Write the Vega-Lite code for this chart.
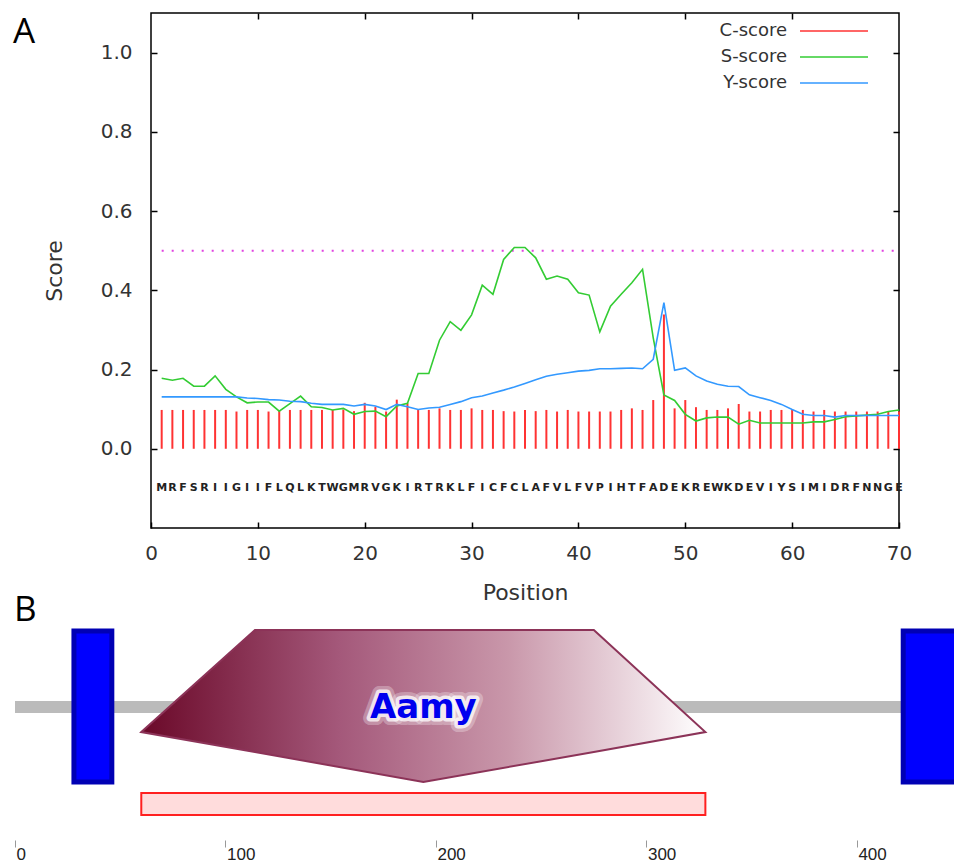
{
  "$schema": "https://vega.github.io/schema/vega-lite/v6.json",
  "padding": {"left": 12, "top": 11, "right": 0, "bottom": 0},
  "spacing": -11,
  "background": "white",
  "config": {
    "view": {"stroke": null},
    "title": {"font": "Open Sans", "fontSize": 35, "fontWeight": "normal", "color": "#000", "anchor": "start", "frame": "group", "baseline": "alphabetic"},
    "axis": {"grid": false, "labelFont": "DejaVu Sans", "titleFont": "DejaVu Sans", "titleFontWeight": "normal", "labelColor": "#333", "titleColor": "#333"}
  },
  "datasets": {
    "seq": [
      {"pos":1,"aa":"M","C-score":0.098,"S-score":0.178,"Y-score":0.131},
      {"pos":2,"aa":"R","C-score":0.098,"S-score":0.173,"Y-score":0.131},
      {"pos":3,"aa":"F","C-score":0.098,"S-score":0.178,"Y-score":0.131},
      {"pos":4,"aa":"S","C-score":0.098,"S-score":0.158,"Y-score":0.131},
      {"pos":5,"aa":"R","C-score":0.098,"S-score":0.158,"Y-score":0.131},
      {"pos":6,"aa":"I","C-score":0.098,"S-score":0.184,"Y-score":0.131},
      {"pos":7,"aa":"I","C-score":0.098,"S-score":0.150,"Y-score":0.131},
      {"pos":8,"aa":"G","C-score":0.094,"S-score":0.131,"Y-score":0.131},
      {"pos":9,"aa":"I","C-score":0.098,"S-score":0.116,"Y-score":0.128},
      {"pos":10,"aa":"I","C-score":0.098,"S-score":0.118,"Y-score":0.127},
      {"pos":11,"aa":"F","C-score":0.094,"S-score":0.118,"Y-score":0.124},
      {"pos":12,"aa":"L","C-score":0.096,"S-score":0.095,"Y-score":0.123},
      {"pos":13,"aa":"Q","C-score":0.098,"S-score":0.114,"Y-score":0.120},
      {"pos":14,"aa":"L","C-score":0.098,"S-score":0.133,"Y-score":0.119},
      {"pos":15,"aa":"K","C-score":0.098,"S-score":0.106,"Y-score":0.115},
      {"pos":16,"aa":"T","C-score":0.098,"S-score":0.104,"Y-score":0.112},
      {"pos":17,"aa":"W","C-score":0.098,"S-score":0.098,"Y-score":0.112},
      {"pos":18,"aa":"G","C-score":0.099,"S-score":0.102,"Y-score":0.112},
      {"pos":19,"aa":"M","C-score":0.095,"S-score":0.087,"Y-score":0.108},
      {"pos":20,"aa":"R","C-score":0.116,"S-score":0.094,"Y-score":0.112},
      {"pos":21,"aa":"V","C-score":0.106,"S-score":0.095,"Y-score":0.108},
      {"pos":22,"aa":"G","C-score":0.094,"S-score":0.081,"Y-score":0.099},
      {"pos":23,"aa":"K","C-score":0.124,"S-score":0.108,"Y-score":0.112},
      {"pos":24,"aa":"I","C-score":0.115,"S-score":0.115,"Y-score":0.106},
      {"pos":25,"aa":"R","C-score":0.098,"S-score":0.190,"Y-score":0.099},
      {"pos":26,"aa":"T","C-score":0.098,"S-score":0.190,"Y-score":0.103},
      {"pos":27,"aa":"R","C-score":0.102,"S-score":0.274,"Y-score":0.105},
      {"pos":28,"aa":"K","C-score":0.098,"S-score":0.321,"Y-score":0.112},
      {"pos":29,"aa":"L","C-score":0.098,"S-score":0.299,"Y-score":0.119},
      {"pos":30,"aa":"F","C-score":0.102,"S-score":0.338,"Y-score":0.129},
      {"pos":31,"aa":"I","C-score":0.098,"S-score":0.413,"Y-score":0.133},
      {"pos":32,"aa":"C","C-score":0.098,"S-score":0.390,"Y-score":0.141},
      {"pos":33,"aa":"F","C-score":0.095,"S-score":0.478,"Y-score":0.148},
      {"pos":34,"aa":"C","C-score":0.094,"S-score":0.508,"Y-score":0.156},
      {"pos":35,"aa":"L","C-score":0.098,"S-score":0.508,"Y-score":0.165},
      {"pos":36,"aa":"A","C-score":0.095,"S-score":0.482,"Y-score":0.174},
      {"pos":37,"aa":"F","C-score":0.098,"S-score":0.428,"Y-score":0.183},
      {"pos":38,"aa":"V","C-score":0.094,"S-score":0.436,"Y-score":0.188},
      {"pos":39,"aa":"L","C-score":0.098,"S-score":0.428,"Y-score":0.192},
      {"pos":40,"aa":"F","C-score":0.094,"S-score":0.394,"Y-score":0.196},
      {"pos":41,"aa":"V","C-score":0.094,"S-score":0.388,"Y-score":0.198},
      {"pos":42,"aa":"P","C-score":0.094,"S-score":0.295,"Y-score":0.202},
      {"pos":43,"aa":"I","C-score":0.094,"S-score":0.360,"Y-score":0.202},
      {"pos":44,"aa":"H","C-score":0.098,"S-score":0.390,"Y-score":0.203},
      {"pos":45,"aa":"T","C-score":0.102,"S-score":0.419,"Y-score":0.204},
      {"pos":46,"aa":"F","C-score":0.098,"S-score":0.453,"Y-score":0.202},
      {"pos":47,"aa":"A","C-score":0.123,"S-score":0.280,"Y-score":0.226},
      {"pos":48,"aa":"D","C-score":0.339,"S-score":0.136,"Y-score":0.369},
      {"pos":49,"aa":"E","C-score":0.102,"S-score":0.122,"Y-score":0.198},
      {"pos":50,"aa":"K","C-score":0.123,"S-score":0.087,"Y-score":0.204},
      {"pos":51,"aa":"R","C-score":0.105,"S-score":0.070,"Y-score":0.184},
      {"pos":52,"aa":"E","C-score":0.098,"S-score":0.078,"Y-score":0.171},
      {"pos":53,"aa":"W","C-score":0.098,"S-score":0.080,"Y-score":0.163},
      {"pos":54,"aa":"K","C-score":0.102,"S-score":0.080,"Y-score":0.158},
      {"pos":55,"aa":"D","C-score":0.113,"S-score":0.062,"Y-score":0.157},
      {"pos":56,"aa":"E","C-score":0.094,"S-score":0.072,"Y-score":0.136},
      {"pos":57,"aa":"V","C-score":0.094,"S-score":0.065,"Y-score":0.129},
      {"pos":58,"aa":"I","C-score":0.098,"S-score":0.065,"Y-score":0.122},
      {"pos":59,"aa":"Y","C-score":0.098,"S-score":0.065,"Y-score":0.112},
      {"pos":60,"aa":"S","C-score":0.098,"S-score":0.065,"Y-score":0.099},
      {"pos":61,"aa":"I","C-score":0.098,"S-score":0.065,"Y-score":0.087},
      {"pos":62,"aa":"M","C-score":0.094,"S-score":0.068,"Y-score":0.084},
      {"pos":63,"aa":"I","C-score":0.098,"S-score":0.068,"Y-score":0.084},
      {"pos":64,"aa":"D","C-score":0.094,"S-score":0.074,"Y-score":0.080},
      {"pos":65,"aa":"R","C-score":0.094,"S-score":0.081,"Y-score":0.084},
      {"pos":66,"aa":"F","C-score":0.094,"S-score":0.083,"Y-score":0.084},
      {"pos":67,"aa":"N","C-score":0.094,"S-score":0.085,"Y-score":0.084},
      {"pos":68,"aa":"N","C-score":0.094,"S-score":0.087,"Y-score":0.084},
      {"pos":69,"aa":"G","C-score":0.094,"S-score":0.094,"Y-score":0.084},
      {"pos":70,"aa":"E","C-score":0.094,"S-score":0.098,"Y-score":0.084}
    ]
  },
  "vconcat": [
    {
      "width": 748,
      "height": 515,
      "title": {"text": "A", "dx": -138, "offset": -38},
      "view": {"stroke": "#000", "strokeWidth": 1.5},
      "resolve": {"axis": {"x": "independent", "y": "independent"}},
      "layer": [
        {
          "data": {"values": [{"cutoff": 0.5}]},
          "mark": {"type": "rule", "color": "#e040e0", "strokeWidth": 2, "strokeDash": [2, 8]},
          "encoding": {
            "x": {"datum": 1, "type": "quantitative", "axis": null},
            "x2": {"datum": 70},
            "y": {"field": "cutoff", "type": "quantitative", "axis": null}
          }
        },
        {
          "data": {"name": "seq"},
          "mark": {"type": "rule", "strokeWidth": 2},
          "encoding": {
            "x": {"field": "pos", "type": "quantitative",
              "scale": {"domain": [0, 70], "nice": false, "zero": false},
              "axis": {"orient": "bottom", "title": "Position", "values": [0,10,20,30,40,50,60,70], "domain": false, "tickSize": -6, "tickColor": "#000", "tickWidth": 1.5, "labelPadding": 21, "labelFontSize": 20, "labelFlush": false, "titleFontSize": 22, "titlePadding": 19}},
            "y": {"field": "C-score", "type": "quantitative",
              "scale": {"domain": [-0.2, 1.1], "nice": false, "zero": false},
              "axis": {"orient": "left", "title": "Score", "values": [0,0.2,0.4,0.6,0.8,1], "format": ".1f", "domain": false, "tickSize": -6, "tickColor": "#000", "tickWidth": 1.5, "labelPadding": 25, "labelFontSize": 20, "titleFontSize": 22, "titlePadding": 34}},
            "y2": {"datum": 0},
            "color": {"datum": "C-score", "type": "nominal", "title": null,
              "scale": {"domain": ["C-score", "S-score", "Y-score"], "range": ["#ff3333", "#33cc33", "#3399ff"]},
              "legend": {"orient": "none", "legendX": 674, "legendY": 9, "title": null, "symbolType": "M-17,0H17", "symbolSize": 16, "symbolStrokeWidth": 1.5, "labelAlign": "right", "labelOffset": -56, "labelFont": "DejaVu Sans", "labelFontSize": 18, "labelColor": "#333", "rowPadding": 8}}
          }
        },
        {
          "data": {"name": "seq"},
          "transform": [{"fold": ["S-score", "Y-score"], "as": ["series", "score"]}],
          "mark": {"type": "line", "strokeWidth": 1.6},
          "encoding": {
            "x": {"field": "pos", "type": "quantitative",
              "axis": {"orient": "top", "labels": false, "title": null, "domain": false, "values": [10,20,30,40,50,60], "tickSize": -6, "tickColor": "#000", "tickWidth": 1.5}},
            "y": {"field": "score", "type": "quantitative",
              "axis": {"orient": "right", "labels": false, "title": null, "domain": false, "values": [0,0.2,0.4,0.6,0.8,1], "tickSize": -6, "tickColor": "#000", "tickWidth": 1.5}},
            "color": {"field": "series", "type": "nominal", "title": null}
          }
        },
        {
          "data": {"name": "seq"},
          "mark": {"type": "text", "font": "DejaVu Sans", "fontSize": 11, "fontWeight": "bold", "color": "#222", "baseline": "middle"},
          "encoding": {
            "x": {"field": "pos", "type": "quantitative", "axis": null},
            "y": {"datum": -0.1, "type": "quantitative", "axis": null},
            "text": {"field": "aa"}
          }
        }
      ]
    },
    {
      "width": 804,
      "height": 214,
      "title": {"text": "B", "dx": -137, "offset": -2},
      "layer": [
        {
          "data": {"values": [{"start": 0, "end": 452}]},
          "mark": {"type": "rect", "color": "#bbbbbb"},
          "encoding": {
            "x": {"field": "start", "type": "quantitative", "title": null,
              "scale": {"domain": [0, 446.6], "range": [-136, 804], "nice": false, "zero": false},
              "axis": {"orient": "bottom", "values": [0,100,200,300,400], "title": null, "domain": false, "ticks": true, "tickSize": 7, "tickColor": "#999999", "labels": true, "labelAlign": "left", "labelOffset": 1, "labelPadding": -1, "labelBaseline": "top", "labelFont": "Liberation Sans", "labelFontSize": 17, "labelColor": "#222", "labelFlush": false, "labelOverlap": false}},
            "x2": {"field": "end"},
            "y": {"datum": 127, "type": "quantitative", "scale": {"domain": [0, 214], "nice": false, "zero": false}, "axis": null},
            "y2": {"datum": 139}
          }
        },
        {
          "data": {"values": [{"start": 28, "end": 46}, {"start": 422, "end": 452}]},
          "mark": {"type": "rect", "fill": "#0000ff", "stroke": "#0000b4", "strokeWidth": 5},
          "encoding": {
            "x": {"field": "start", "type": "quantitative", "title": null},
            "x2": {"field": "end"},
            "y": {"datum": 58, "type": "quantitative", "axis": null},
            "y2": {"datum": 209}
          }
        },
        {
          "data": {"values": [
            {"pos": 60, "top": 108, "bottom": 108},
            {"pos": 114, "top": 210, "bottom": 88},
            {"pos": 194, "top": 210, "bottom": 58},
            {"pos": 275, "top": 210, "bottom": 88},
            {"pos": 328, "top": 108, "bottom": 108}
          ]},
          "mark": {"type": "area", "interpolate": "linear", "stroke": "#8c3358", "strokeWidth": 2,
            "fill": {"gradient": "linear", "x1": 0, "y1": 0, "x2": 1, "y2": 0,
              "stops": [{"offset": 0, "color": "#6a0828"}, {"offset": 0.35, "color": "#a4587a"}, {"offset": 0.65, "color": "#c997aa"}, {"offset": 1, "color": "#ffffff"}]},
            "fillOpacity": 1},
          "encoding": {
            "x": {"field": "pos", "type": "quantitative", "title": null},
            "y": {"field": "top", "type": "quantitative", "axis": null},
            "y2": {"field": "bottom"}
          }
        },
        {
          "data": {"values": [{"start": 60, "end": 328}]},
          "mark": {"type": "rect", "fill": "#ffdcdc", "stroke": "#ff2020", "strokeWidth": 2},
          "encoding": {
            "x": {"field": "start", "type": "quantitative", "title": null},
            "x2": {"field": "end"},
            "y": {"datum": 25, "type": "quantitative", "axis": null},
            "y2": {"datum": 47}
          }
        },
        {
          "data": {"values": [{"domain": "Aamy"}]},
          "mark": {"type": "text", "font": "DejaVu Sans", "fontSize": 34, "fontWeight": "bold", "fill": "#ffffff", "fillOpacity": 0.3, "stroke": "#ffffff", "strokeWidth": 14, "strokeOpacity": 0.3, "strokeJoin": "round", "baseline": "middle", "align": "center"},
          "encoding": {
            "x": {"datum": 194, "type": "quantitative", "title": null},
            "y": {"datum": 132, "type": "quantitative", "axis": null},
            "text": {"field": "domain"}
          }
        },
        {
          "data": {"values": [{"domain": "Aamy"}]},
          "mark": {"type": "text", "font": "DejaVu Sans", "fontSize": 34, "fontWeight": "bold", "fill": "#ffffff", "stroke": "#ffffff", "strokeWidth": 7, "strokeOpacity": 0.75, "strokeJoin": "round", "baseline": "middle", "align": "center"},
          "encoding": {
            "x": {"datum": 194, "type": "quantitative", "title": null},
            "y": {"datum": 132, "type": "quantitative", "axis": null},
            "text": {"field": "domain"}
          }
        },
        {
          "data": {"values": [{"domain": "Aamy"}]},
          "mark": {"type": "text", "font": "DejaVu Sans", "fontSize": 34, "fontWeight": "bold", "fill": "#0000ee", "baseline": "middle", "align": "center"},
          "encoding": {
            "x": {"datum": 194, "type": "quantitative", "title": null},
            "y": {"datum": 132, "type": "quantitative", "axis": null},
            "text": {"field": "domain"}
          }
        }
      ]
    }
  ]
}
